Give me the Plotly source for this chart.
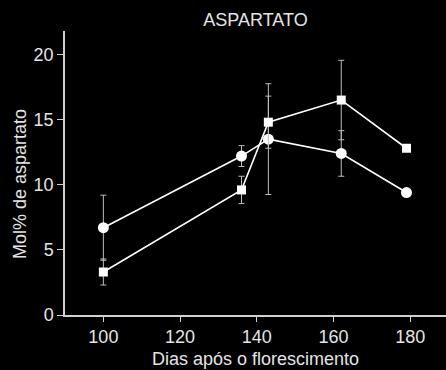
import plotly.graph_objects as go

# Days after flowering
days = [100, 136, 143, 162, 179]

# Mol% aspartate, circle series
circle_vals = [6.7, 12.2, 13.5, 12.4, 9.4]
circle_err = [2.5, 0.8, 4.25, 1.75, 0]

# Mol% aspartate, square series
square_vals = [3.3, 9.6, 14.8, 16.5, 12.8]
square_err = [1.0, 1.05, 2.0, 3.05, 0]

x_ticks = [100, 120, 140, 160, 180]
y_ticks = [0, 5, 10, 15, 20]

FONT = "Arial, Liberation Sans, sans-serif"
FS = 18
TXT = "#e4e4e4"
AXC = "#d0d0d0"
ERRC = "#bdbdbd"

fig = go.Figure()

fig.add_trace(go.Scatter(
    x=days, y=circle_vals, mode="lines+markers",
    line=dict(color="white", width=1.6),
    marker=dict(symbol="circle", size=11, color="white"),
    error_y=dict(type="data", array=circle_err, color=ERRC, thickness=1, width=3),
    showlegend=False,
))
fig.add_trace(go.Scatter(
    x=days, y=square_vals, mode="lines+markers",
    line=dict(color="white", width=1.6),
    marker=dict(symbol="square", size=9, color="white"),
    error_y=dict(type="data", array=square_err, color=ERRC, thickness=1, width=3),
    showlegend=False,
))

fig.update_layout(
    width=446, height=370,
    margin=dict(l=65, r=0, t=31, b=55),
    paper_bgcolor="black", plot_bgcolor="black",
    font=dict(family=FONT, size=FS, color=TXT),
    title=dict(text="ASPARTATO", x=0.5, xref="paper", xanchor="center",
               y=1 - 19.5 / 370, yref="container", yanchor="middle",
               font=dict(size=FS, color=TXT)),
    xaxis=dict(
        range=[90, 189.3], tickvals=x_ticks, ticks="outside", ticklen=5,
        tickcolor=AXC, tickwidth=1, showline=True, linecolor=AXC, linewidth=1.5,
        showgrid=False, zeroline=False, tickfont=dict(size=FS, color=TXT),
    ),
    yaxis=dict(
        range=[0, 21.8], tickvals=y_ticks, ticks="outside", ticklen=6,
        tickcolor=AXC, tickwidth=1, showline=True, linecolor=AXC, linewidth=1.5,
        showgrid=False, zeroline=False, tickfont=dict(size=FS, color=TXT),
    ),
    annotations=[
        dict(text="Dias após o florescimento", xref="paper", yref="paper",
             x=0.5, y=0, yshift=-44, xanchor="center", yanchor="middle",
             showarrow=False, font=dict(size=FS, color=TXT)),
        dict(text="Mol% de aspartato", xref="paper", yref="paper",
             x=0, xshift=-45, y=(315 - 184) / 284, xanchor="center", yanchor="middle",
             textangle=-90, showarrow=False, font=dict(size=FS, color=TXT)),
    ],
)

fig.write_html("out.html")
